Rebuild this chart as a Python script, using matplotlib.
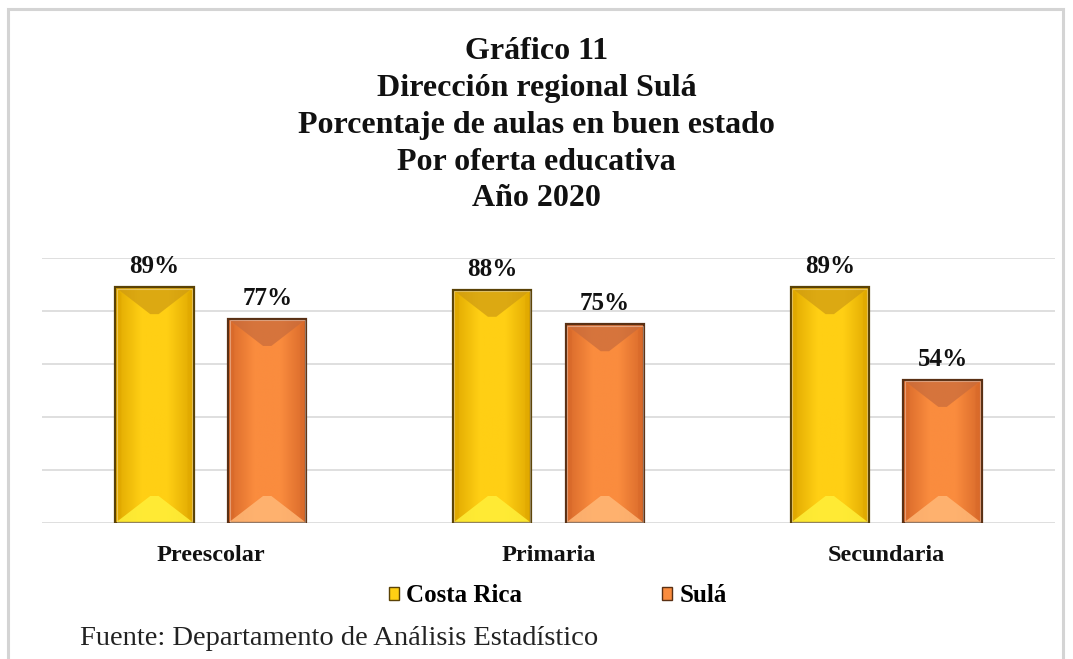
import numpy as np
import matplotlib
matplotlib.use("Agg")
import matplotlib.pyplot as plt
from matplotlib.patches import Patch, Polygon, Rectangle
from matplotlib.colors import LinearSegmentedColormap

plt.rcParams["font.family"] = ["Liberation Serif", "DejaVu Serif"]

categories = ["Preescolar", "Primaria", "Secundaria"]
series_names = ["Costa Rica", "Sulá"]
costa_rica = [89, 88, 89]
sula = [77, 75, 54]

title_lines = [
    "Gráfico 11",
    "Dirección regional Sulá",
    "Porcentaje de aulas en buen estado",
    "Por oferta educativa",
    "Año 2020",
]
source_text = "Fuente: Departamento de Análisis Estadístico"

# colours: body dark / light, top bevel, bottom bevel, edge
styles = {
    "Costa Rica": dict(dark="#E0A800", light="#FFCF14", top="#CE9A12",
                       bottom="#FFF03A", edge="#5A4206"),
    "Sulá": dict(dark="#D8692A", light="#FA8C3E", top="#C76B3C",
                 bottom="#FFB877", edge="#5A3014"),
}

W, H = 1073, 659
fig = plt.figure(figsize=(W / 100, H / 100), dpi=100)

# outer frame
fig.add_artist(Rectangle((8 / W, -0.05), (1063 - 8) / W, (H - 9) / H + 0.05,
                         transform=fig.transFigure, fill=False,
                         edgecolor="#d4d4d4", linewidth=2.2))

ax_l, ax_r, ax_b, ax_t = 42, 1055, 523, 258
ax = fig.add_axes([ax_l / W, (H - ax_b) / H, (ax_r - ax_l) / W, (ax_b - ax_t) / H])
ax.set_xlim(-0.5, 2.5)
ax.set_ylim(0, 100)
for s in ax.spines.values():
    s.set_visible(False)
ax.set_yticks(np.arange(0, 101, 20))
ax.set_yticklabels([])
ax.tick_params(axis="y", length=0)
ax.tick_params(axis="x", length=0, pad=16)
ax.grid(axis="y", color="#d9d9d9", linewidth=1.2)
ax.set_axisbelow(True)

x = np.arange(len(categories))
width = 0.232
offset = 0.167

# pixel -> data conversion
sx = 3.0 / (ax_r - ax_l)
sy = 100.0 / (ax_b - ax_t)


def bevel_bar(bar, st):
    x0, y0 = bar.get_x(), bar.get_y()
    w, h = bar.get_width(), bar.get_height()
    x1, y1 = x0 + w, y0 + h
    # horizontal gradient body
    cmap = LinearSegmentedColormap.from_list(
        "g", [st["dark"], st["light"], st["light"], st["dark"]])
    grad = np.linspace(0, 1, 64).reshape(1, -1)
    im = ax.imshow(grad, cmap=cmap, aspect="auto", extent=(x0, x1, y0, y1),
                   zorder=2, interpolation="bilinear")
    im.set_clip_path(bar)
    ix, iy = 35 * sx, 27 * sy
    sxx = 6 * sx
    top = Polygon([(x0, y1), (x1, y1), (x1 - ix, y1 - iy), (x0 + ix, y1 - iy)],
                  closed=True, facecolor=st["top"], edgecolor="none",
                  alpha=0.7, zorder=3)
    bot = Polygon([(x0, y0), (x1, y0), (x1 - ix, y0 + iy), (x0 + ix, y0 + iy)],
                  closed=True, facecolor=st["bottom"], edgecolor="none",
                  alpha=0.85, zorder=3)
    left = Polygon([(x0, y0), (x0 + sxx, y0 + iy * 0.25), (x0 + sxx, y1 - iy * 0.25),
                    (x0, y1)], closed=True, facecolor=st["dark"],
                   edgecolor="none", alpha=0.8, zorder=3)
    right = Polygon([(x1, y0), (x1 - sxx, y0 + iy * 0.25), (x1 - sxx, y1 - iy * 0.25),
                     (x1, y1)], closed=True, facecolor=st["dark"],
                    edgecolor="none", alpha=0.6, zorder=3)
    for p in (top, bot, left, right):
        ax.add_patch(p)
    ax.add_patch(Rectangle((x0, y0), w, h, fill=False, edgecolor=st["edge"],
                           linewidth=1.6, zorder=4))
    ax.add_patch(Rectangle((x0 + sx * 1.5, y0 + sy * 1.5), w - sx * 3, h - sy * 3,
                           fill=False, edgecolor="white", alpha=0.35,
                           linewidth=0.8, zorder=4))


for name, vals, sign in [("Costa Rica", costa_rica, -1), ("Sulá", sula, 1)]:
    st = styles[name]
    bars = ax.bar(x + sign * offset, vals, width, color="none", edgecolor="none",
                  zorder=2)
    for bar, v in zip(bars, vals):
        bevel_bar(bar, st)
        ax.text(bar.get_x() + bar.get_width() / 2, v + 14 * sy, f"{v}%",
                ha="center", va="baseline", fontsize=18, fontweight="bold",
                color="#111111")

ax.set_xticks(x)
ax.set_xticklabels(categories, fontsize=17.5, fontweight="bold", color="#111111")

# title, one line at a time
baselines = [59, 96, 133, 170, 206]
for line, yb in zip(title_lines, baselines):
    fig.text(0.5, 1 - yb / H, line, ha="center", va="baseline",
             fontsize=23, fontweight="bold", color="#111111")

# legend
handles = [Patch(facecolor=styles[n]["light"], edgecolor=styles[n]["edge"],
                 linewidth=1.0) for n in series_names]
leg = fig.legend(handles, series_names, loc="center", ncol=2,
                 bbox_to_anchor=(558 / W, 1 - 596 / H), frameon=False,
                 prop=dict(size=18, weight="bold"), handlelength=0.4,
                 handleheight=0.4, handletextpad=0.3, columnspacing=5.6)

fig.text(80 / W, 1 - 645 / H, source_text, ha="left", va="baseline",
         fontsize=20.5, color="#222222")

fig.savefig("out.png", dpi=100)
